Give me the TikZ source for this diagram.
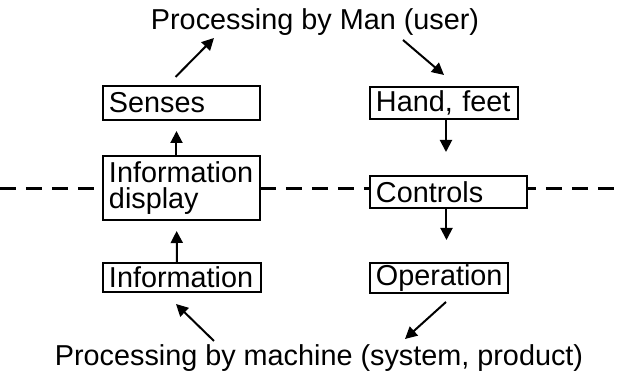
\documentclass[tikz,border=0pt]{standalone}
\usepackage{fontspec}
\setmainfont{Liberation Sans}
\usetikzlibrary{
  arrows.meta,
  positioning,
  calc,
}
\tikzset{
  semithick,
  % boxes of the two columns, text set from the left edge
  blk/.style 2 args={
    draw,
    fill=white,
    line width=1pt,
    anchor=north west,
    inner xsep=3pt,
    inner ysep=0pt,
    align=left,
    text width=#1,
    minimum height=#2
  },
  heading/.style={
    anchor=base,
    inner sep=0pt
  },
  arr/.style={
    -{Triangle[length=6pt,width=6pt]},
    line width=1pt
  },
  divider/.style={
    line width=1.5pt,
    dash pattern=on 8pt off 5pt
  }
}

\begin{document}
\begin{tikzpicture}[x=0.5pt,y=-0.5pt,font=\fontsize{14.4pt}{13pt}\selectfont]
\useasboundingbox (0,0) rectangle (618,378);
% border between man and machine
\draw[divider] (0,189) -- (618,189);
\node[heading] (man)  at (315,30)  {Processing by Man (user)};
\node[heading] (mach) at (319,366) {Processing by machine (system, product)};
% left column: information going up
\node[blk={72.5pt}{17pt}] (senses) at (102,85)  {Senses};
\node[blk={72.5pt}{32pt}] (disp)   at (102,155) {Information\\display};
\node[blk={73pt}{14.5pt}] (info)   at (102,262) {Information};
% right column: actions going down
\node[blk={68pt}{16pt}]   (hand)   at (369,86)  {Hand, feet};
\node[blk={72.5pt}{16pt}] (ctrl)   at (369,175) {Controls};
\node[blk={63pt}{15pt}]   (oper)   at (369,262) {Operation};
\coordinate (manin)   at (214,38);
\coordinate (manout)  at (403,40);
\coordinate (machin)  at (214,341);
\coordinate (machout) at (405,339);
\draw[arr,shorten >=5pt] ([xshift=-2.5pt]info.north) -- ([xshift=-2.5pt]disp.south);
\draw[arr,shorten >=5pt] ([xshift=-2.5pt]disp.north) -- ([xshift=-2.5pt]senses.south);
\draw[arr] ([shift={(-3pt,4pt)}]senses.north) -- (manin);
\draw[arr] (manout) -- ([yshift=5.5pt]hand.north);
\draw[arr,shorten >=11.5pt] ([xshift=1pt]hand.south) -- ([xshift=1pt]hand.south |- ctrl.north);
\draw[arr,shorten >=11pt] ([xshift=-1pt]ctrl.south) -- ([xshift=-1pt]ctrl.south |- oper.north);
\draw[arr] ([shift={(3.5pt,-4pt)}]oper.south) -- (machout);
\draw[arr] (machin) -- ([shift={(-3pt,-5.5pt)}]info.south);
\end{tikzpicture}
\end{document}
